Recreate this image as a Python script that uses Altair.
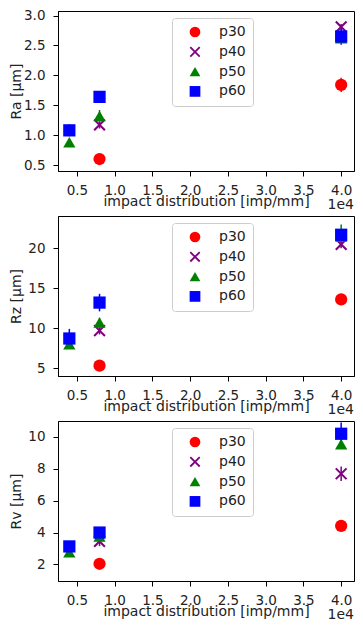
import altair as alt
import pandas as pd

# ---------------- data ----------------
X_VALUES = [4000, 8000, 40000]           # impact distribution [imp/mm]
SERIES = ["p30", "p40", "p50", "p60"]
COLORS = ["#ff0000", "#800080", "#008000", "#0000ff"]
X_SHAPE = "M-1,-0.76L-0.76,-1L1,0.76L0.76,1ZM0.76,-1L1,-0.76L-0.76,1L-1,0.76Z"
SHAPES = ["circle", X_SHAPE, "triangle-up", "square"]

# rows = series (p30, p40, p50, p60), columns = X_VALUES
RA_MEAN = [[None, 0.60, 1.84], [None, 1.17, 2.81], [0.88, 1.32, 2.62], [1.08, 1.64, 2.65]]
RA_ERR = [[None, 0.02, 0.12], [None, 0.06, 0.05], [0.03, 0.10, 0.05], [0.10, 0.03, 0.14]]
RZ_MEAN = [[None, 5.3, 13.6], [None, 9.7, 20.5], [8.0, 10.7, 21.5], [8.7, 13.2, 21.7]]
RZ_ERR = [[None, 0.2, 0.3], [None, 0.5, 0.4], [0.3, 0.6, 1.5], [1.2, 1.1, 0.5]]
RV_MEAN = [[None, 2.04, 4.42], [None, 3.45, 7.69], [2.77, 3.76, 9.55], [3.13, 4.0, 10.2]]
RV_ERR = [[None, 0.05, 0.10], [None, 0.30, 0.45], [0.10, 0.20, 0.30], [0.20, 0.20, 0.70]]

Y_TITLES = ["Ra [µm]", "Rz [µm]", "Rv [µm]"]
Y_DOMAINS = [[0.40, 3.076], [4.0, 24.05], [0.96, 11.0]]
Y_TICKS = [[0.5, 1.0, 1.5, 2.0, 2.5, 3.0], [5, 10, 15, 20], [2, 4, 6, 8, 10]]
Y_FORMATS = [".1f", "d", "d"]
X_TICKS = [5000, 10000, 15000, 20000, 25000, 30000, 35000, 40000]
X_DOMAIN = [2500, 41700]
X_TITLE = "impact distribution [imp/mm]"
OFFSET_TEXT = ["1e4"]

W, H = 296, 160
FONT = "DejaVu Sans"
TXT = "#222222"


def panel(i, mean, err):
    rows = []
    for s, name in enumerate(SERIES):
        for j, x in enumerate(X_VALUES):
            m = mean[s][j]
            if m is None:
                continue
            e = err[s][j]
            rows.append({"x": x, "series": name, "y": m, "lo": m - e, "hi": m + e})
    df = pd.DataFrame(rows)

    xscale = alt.Scale(domain=X_DOMAIN, nice=False, zero=False)
    yscale = alt.Scale(domain=Y_DOMAINS[i], nice=False, zero=False)
    xaxis = alt.Axis(values=X_TICKS, labelExpr="format(datum.value / 10000, '.1f')",
                     title=X_TITLE, titleY=34, titleBaseline="alphabetic",
                     labelPadding=7.5)
    yaxis = alt.Axis(values=Y_TICKS[i], format=Y_FORMATS[i], title=Y_TITLES[i],
                     titleX=-38, titleBaseline="alphabetic", labelPadding=8)
    cscale = alt.Scale(domain=SERIES, range=COLORS)
    sscale = alt.Scale(domain=SERIES, range=SHAPES)
    # error-bar colours: data-driven domain (sorted p30..p60), so its legend
    # is not merged with (and does not disable) the marker legend
    bscale = alt.Scale(range=COLORS)
    legend = alt.Legend(orient="none", legendX=114, legendY=7, padding=7,
                        fillColor="white", strokeColor="#cccccc", cornerRadius=3,
                        symbolSize=115, symbolOffset=9, labelOffset=17, rowPadding=5.8,
                        labelFontSize=14, labelFont=FONT, labelColor=TXT,
                        symbolStrokeWidth=0)

    bars = alt.Chart(df).mark_rule(strokeWidth=1.5).encode(
        x=alt.X("x:Q", scale=xscale, axis=xaxis),
        y=alt.Y("lo:Q", scale=yscale, axis=yaxis),
        y2="hi:Q",
        stroke=alt.Stroke("series:N", scale=bscale, sort="ascending", legend=None),
    )
    points = alt.Chart(df).mark_point(filled=True, opacity=1, size=150).encode(
        x=alt.X("x:Q", scale=xscale, axis=xaxis),
        y=alt.Y("y:Q", scale=yscale, axis=yaxis),
        color=alt.Color("series:N", scale=cscale, legend=legend, title=None),
        shape=alt.Shape("series:N", scale=sscale, legend=legend, title=None),
    )
    offset = alt.Chart(pd.DataFrame({"t": OFFSET_TEXT})).mark_text(
        align="right", baseline="alphabetic", fontSize=14, font=FONT, color=TXT
    ).encode(text="t:N", x=alt.value(W), y=alt.value(H + 38))
    return alt.layer(bars, points, offset).properties(width=W, height=H)


chart = alt.vconcat(
    panel(0, RA_MEAN, RA_ERR),
    panel(1, RZ_MEAN, RZ_ERR),
    panel(2, RV_MEAN, RV_ERR),
    spacing=45,
    bounds="flush",
).resolve_scale(
    x="independent", y="independent", color="independent", shape="independent",
    stroke="independent"
).resolve_legend(
    color="independent", shape="independent"
).properties(
    padding=0
).configure_view(
    stroke="black", strokeWidth=1
).configure_axis(
    grid=False, domainColor="black", domainWidth=1, tickColor="black", tickWidth=1,
    tickSize=5, labelColor=TXT, titleColor=TXT, labelFont=FONT, titleFont=FONT,
    labelFontSize=13.5, titleFontSize=14, titleFontWeight="normal"
)

chart.save("out.html", embed_options={"renderer": "svg", "actions": False})
